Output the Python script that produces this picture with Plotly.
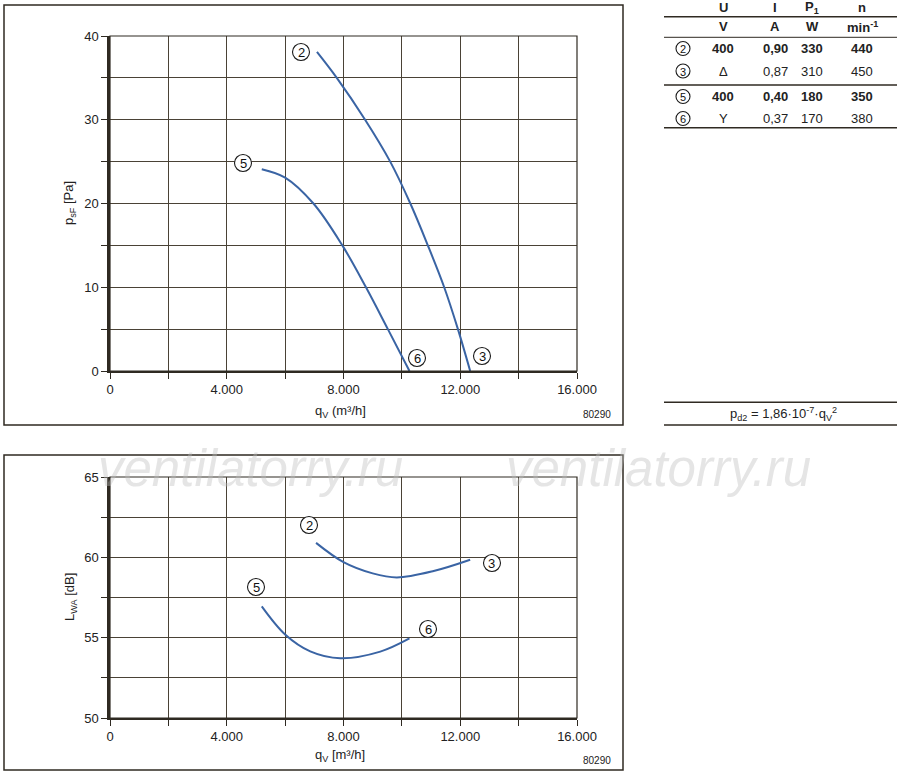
import plotly.graph_objects as go

# --- data ---
# pressure curves (top chart)
q_p23 = [7090, 7770, 8740, 9600, 10290, 10890, 11450, 11920, 12340]
p_p23 = [38.1, 35.0, 30.0, 25.0, 20.0, 15.0, 10.0, 5.0, 0.0]
q_p56 = [5200, 6000, 6970, 7960, 8770, 9520, 10260]
p_p56 = [24.1, 23.1, 20.0, 15.0, 10.0, 5.0, 0.0]

# sound power curves (bottom chart)
q_l23 = [7060, 8000, 9000, 9830, 11090, 12340]
l_l23 = [60.9, 59.7, 59.0, 58.75, 59.15, 59.85]
q_l56 = [5200, 6000, 6860, 7890, 9260, 10260]
l_l56 = [56.95, 55.2, 54.15, 53.72, 54.13, 54.95]

x_ticks = [0, 2000, 4000, 6000, 8000, 10000, 12000, 14000, 16000]
x_labels = ["0", "", "4.000", "", "8.000", "", "12.000", "", "16.000"]
p_ticks = [0, 5, 10, 15, 20, 25, 30, 35, 40]
p_labels = ["0", "", "10", "", "20", "", "30", "", "40"]
l_ticks = [50, 52.5, 55, 57.5, 60, 62.5, 65]
l_labels = ["50", "", "55", "", "60", "", "65"]

table_marks = ["2", "3", "5", "6"]
table_u = ["400", "Δ", "400", "Y"]
table_i = ["0,90", "0,87", "0,40", "0,37"]
table_p = ["330", "310", "180", "170"]
table_n = ["440", "450", "350", "380"]
table_bold = [True, False, True, False]

W, H = 900, 776
DARK = "#2f2a22"
GRID = "#4a4236"
BLUE = "#3a64a4"
FONT = "Liberation Sans, Arial, sans-serif"


def px(x):
    return x / W


def py(y):
    return 1 - y / H


fig = go.Figure()

for xs, ys, xa, ya in [(q_p23, p_p23, "x", "y"), (q_p56, p_p56, "x", "y"),
                       (q_l23, l_l23, "x2", "y2"), (q_l56, l_l56, "x2", "y2")]:
    fig.add_trace(go.Scatter(x=xs, y=ys, mode="lines", xaxis=xa, yaxis=ya,
                             line=dict(color=BLUE, width=2, shape="spline", smoothing=1.0),
                             showlegend=False, hoverinfo="skip"))

axis_common = dict(showgrid=True, gridcolor=GRID, gridwidth=1, zeroline=False,
                   ticks="outside", ticklen=6, tickcolor=DARK, tickwidth=1,
                   showline=True, linecolor=DARK, automargin=False,
                   tickfont=dict(family=FONT, size=13, color="#222"))

x_dom = [px(110), px(577)]
fig.update_layout(
    width=W, height=H,
    margin=dict(l=0, r=0, t=0, b=0, pad=0, autoexpand=False),
    paper_bgcolor="white", plot_bgcolor="white",
    font=dict(family=FONT, color="#222"),
    xaxis=dict(domain=x_dom, range=[0, 16000], tickvals=x_ticks, ticktext=x_labels,
               anchor="y", linewidth=1.5, **axis_common),
    yaxis=dict(domain=[py(371), py(36)], range=[0, 40], tickvals=p_ticks, ticktext=p_labels,
               anchor="x", linewidth=2.5, **axis_common),
    xaxis2=dict(domain=x_dom, range=[0, 16000], tickvals=x_ticks, ticktext=x_labels,
                anchor="y2", linewidth=1.5, **axis_common),
    yaxis2=dict(domain=[py(718), py(477)], range=[50, 65], tickvals=l_ticks, ticktext=l_labels,
                anchor="x2", linewidth=2.5, **axis_common),
)

shapes = []
# plot borders (top/right)
for xr, yr in [("x domain", "y domain"), ("x2 domain", "y2 domain")]:
    shapes.append(dict(type="rect", xref=xr, yref=yr, x0=0, x1=1, y0=0, y1=1,
                       line=dict(color=DARK, width=1.2), layer="above"))
# outer frames
for y0, y1 in [(5, 425), (455, 770)]:
    shapes.append(dict(type="rect", xref="paper", yref="paper",
                       x0=px(4), x1=px(623), y0=py(y1), y1=py(y0),
                       line=dict(color=DARK, width=1.5)))
# table lines
for yl, wd in [(16.7, 1.5), (37.3, 1.0), (85, 1.5), (127.7, 1.5), (402.3, 1.5), (425, 1.5)]:
    shapes.append(dict(type="line", xref="paper", yref="paper",
                       x0=px(664), x1=px(897), y0=py(yl), y1=py(yl),
                       line=dict(color=DARK, width=wd)))

ann = []


def text(x, y, s, size=13, bold=False, color="#222", family=FONT, **kw):
    if bold:
        s = "<b>" + s + "</b>"
    ann.append(dict(x=px(x), y=py(y), xref="paper", yref="paper", text=s, showarrow=False,
                    font=dict(family=family, size=size, color=color),
                    xanchor=kw.pop("xanchor", "center"), yanchor=kw.pop("yanchor", "middle"), **kw))


def circled(x, y, s, r=8.5, size=13):
    shapes.append(dict(type="circle", xref="paper", yref="paper",
                       x0=px(x - r), x1=px(x + r), y0=py(y + r), y1=py(y - r),
                       line=dict(color="#1a1a1a", width=1.1), fillcolor="white"))
    text(x, y + 0.5, s, size=size, color="#111")


# axis titles
text(70, 203, "p<sub>sF</sub> [Pa]", size=13, textangle=-90)
text(340, 411, "q<sub>V</sub> (m³/h]", size=13)
text(70, 597, "L<sub>WA</sub> [dB]", size=13, textangle=-90)
text(340, 755, "q<sub>V</sub> [m³/h]", size=13)
text(597, 414, "80290", size=10)
text(597, 760, "80290", size=10)

# curve markers
for x, y, s in [(301, 52, "2"), (243, 163, "5"), (417, 358, "6"), (482, 356, "3"),
                (309, 525, "2"), (492, 563, "3"), (256, 587, "5"), (428, 629, "6")]:
    circled(x, y, s)

# table
cols = [683, 723, 775, 812, 862]
text(cols[1], 8, "U", bold=True)
text(cols[2], 8, "I", bold=True)
text(cols[3], 8, "P<sub>1</sub>", bold=True)
text(cols[4], 8, "n", bold=True)
text(cols[1], 27, "V", bold=True)
text(cols[2], 27, "A", bold=True)
text(cols[3], 27, "W", bold=True)
text(cols[4], 27, "min<sup>-1</sup>", bold=True)
for row, yy in enumerate([48.5, 71, 96.5, 118.5]):
    circled(cols[0], yy, table_marks[row], r=7, size=11)
    b = table_bold[row]
    text(cols[1], yy, table_u[row], bold=b)
    text(cols[2], yy, table_i[row], bold=b)
    text(cols[3], yy, table_p[row], bold=b)
    text(cols[4], yy, table_n[row], bold=b)

text(783, 414, "p<sub>d2</sub> = 1,86·10<sup>-7</sup>·q<sub>V</sub><sup>2</sup>", size=13)

# watermark
for x in (250, 658):
    text(x, 468, "<i>ventilatorry.ru</i>", size=51, color="rgba(190,190,190,0.4)")

fig.update_layout(shapes=shapes, annotations=ann)

# drop the default 8px page margin so the figure fills the window; no modebar
fig.write_html("out.html", config={"displayModeBar": False},
               post_script="document.body.style.margin = '0';")
